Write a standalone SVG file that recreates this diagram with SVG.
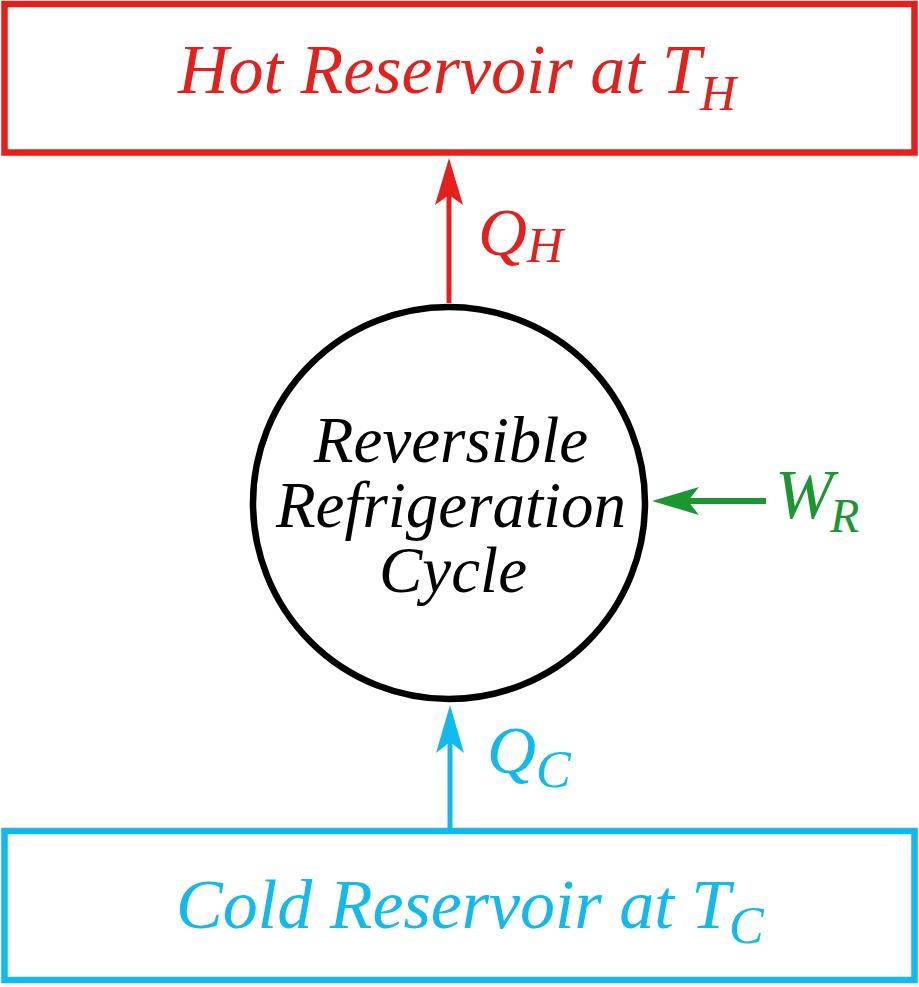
<svg xmlns="http://www.w3.org/2000/svg" width="919" height="987" viewBox="0 0 919 987">
<style>
  .hot { fill: #e3201b; }
  .cold { fill: #12b9ec; }
  .work { fill: #1b9631; }
  .ink { fill: #000000; }
</style>
<rect width="919" height="987" fill="#ffffff"/>
<g id="hot-reservoir">
  <rect x="4.5" y="4" width="910" height="148.5" fill="#ffffff" stroke="#e3201b" stroke-width="6.5"/>
  <text class="hot" x="178" y="93" font-size="70" font-family="Times New Roman, Liberation Serif, serif" font-style="italic">Hot Reservoir at T</text>
  <text class="hot" x="700" y="110" font-size="50" font-family="Times New Roman, Liberation Serif, serif" font-style="italic">H</text>
</g>
<g id="cycle">
  <circle cx="449" cy="503" r="196" fill="#ffffff" stroke="#000000" stroke-width="6.5"/>
  <text class="ink" x="451" y="462" font-size="65" text-anchor="middle" font-family="Times New Roman, Liberation Serif, serif" font-style="italic">Reversible</text>
  <text class="ink" x="451" y="527" font-size="65" text-anchor="middle" font-family="Times New Roman, Liberation Serif, serif" font-style="italic">Refrigeration</text>
  <text class="ink" x="453" y="592" font-size="65" text-anchor="middle" font-family="Times New Roman, Liberation Serif, serif" font-style="italic">Cycle</text>
</g>
<g id="cold-reservoir">
  <rect x="4.5" y="831" width="910" height="149" fill="#ffffff" stroke="#12b9ec" stroke-width="6.5"/>
  <text class="cold" x="176" y="928" font-size="70" font-family="Times New Roman, Liberation Serif, serif" font-style="italic">Cold Reservoir at T</text>
  <text class="cold" x="729" y="943" font-size="52" font-family="Times New Roman, Liberation Serif, serif" font-style="italic">C</text>
</g>
<g id="connectors">
  <line x1="449" y1="303" x2="449" y2="190" stroke="#e3201b" stroke-width="5"/>
  <path class="hot" d="M449,158 L463,205 L449,195 L435,205 Z"/>
  <line x1="450" y1="828" x2="450" y2="735" stroke="#12b9ec" stroke-width="5"/>
  <path class="cold" d="M450,705 L464,753 L450,742 L436,753 Z"/>
  <line x1="766" y1="501" x2="682" y2="501" stroke="#1b9631" stroke-width="6"/>
  <path class="work" d="M652,501 L699,487 L688,501 L699,515 Z"/>
</g>
<g id="labels">
  <text class="hot" x="478" y="255" font-size="68" font-family="Times New Roman, Liberation Serif, serif" font-style="italic">Q</text>
  <text class="hot" x="527" y="262" font-size="50" font-family="Times New Roman, Liberation Serif, serif" font-style="italic">H</text>
  <text class="cold" x="487" y="773" font-size="68" font-family="Times New Roman, Liberation Serif, serif" font-style="italic">Q</text>
  <text class="cold" x="536" y="787" font-size="52" font-family="Times New Roman, Liberation Serif, serif" font-style="italic">C</text>
  <text class="work" x="775" y="518" font-size="70" font-family="Times New Roman, Liberation Serif, serif" font-style="italic">W</text>
  <text class="work" x="830" y="532" font-size="48" font-family="Times New Roman, Liberation Serif, serif" font-style="italic">R</text>
</g>
</svg>
